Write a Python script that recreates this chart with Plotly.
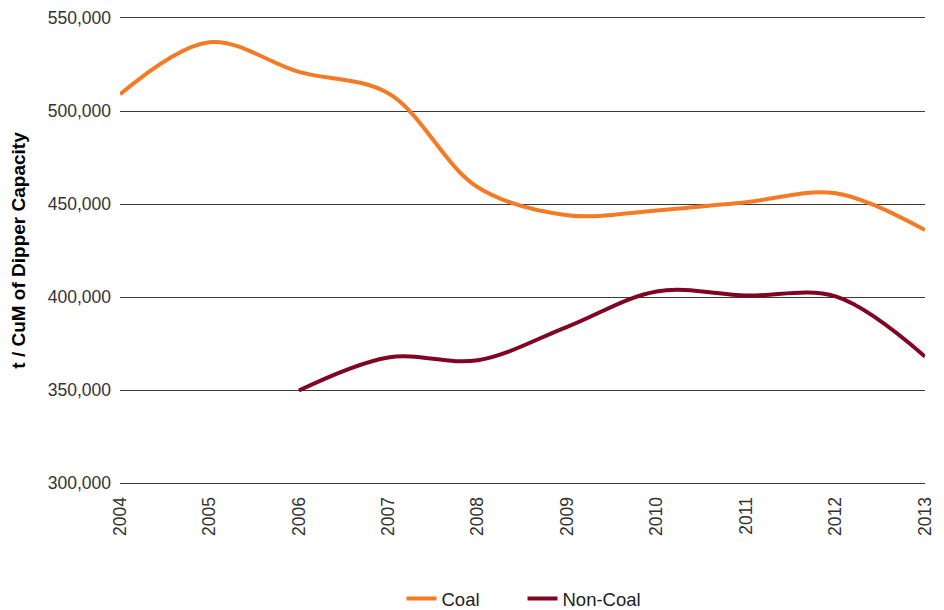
import plotly.graph_objects as go

years = ["2004", "2005", "2006", "2007", "2008", "2009", "2010", "2011", "2012", "2013"]
coal = [509000, 537000, 521000, 509500, 459000, 444000, 446500, 451000, 455800, 436000]
non_coal = [None, None, 349700, 367500, 366000, 384000, 403000, 400800, 400300, 368000]

font_name = "Liberation Sans, Arial, sans-serif"

fig = go.Figure()
fig.add_trace(go.Scatter(
	x=years, y=coal, name="Coal", mode="lines",
	line=dict(color="#f47a25", width=4, shape="spline", smoothing=1.0)
))
fig.add_trace(go.Scatter(
	x=years, y=non_coal, name="Non-Coal", mode="lines",
	line=dict(color="#7f0522", width=4, shape="spline", smoothing=1.0)
))

# page body adds an 8px offset, so margins are shifted to compensate
fig.update_layout(
	width=944, height=610,
	margin=dict(l=112, r=27, t=10, b=135, autoexpand=False),
	plot_bgcolor="white", paper_bgcolor="white",
	font=dict(family=font_name, size=17.5, color="#333333"),
	legend=dict(
		orientation="h", x=0.5, xanchor="center",
		yref="container", y=0.0, yanchor="bottom",
		font=dict(size=18.5, color="#222222"),
		entrywidth=76
	),
	xaxis=dict(
		type="category", range=[0, 9], tickangle=-90,
		showgrid=False, zeroline=False, automargin=False,
		showline=True, mirror=True, linecolor="#3a3a3a", linewidth=1,
		ticks="", ticklabelstandoff=6
	),
	yaxis=dict(
		range=[300000, 550000], dtick=50000, tickformat=",",
		showgrid=True, gridcolor="#3a3a3a", gridwidth=1, automargin=False,
		showline=False, zeroline=False, ticks="", ticklabelstandoff=8,
		title=dict(text="<b>t / CuM of Dipper Capacity</b>", standoff=17,
			font=dict(size=19, color="#000000"))
	)
)

fig.write_html("out.html")
